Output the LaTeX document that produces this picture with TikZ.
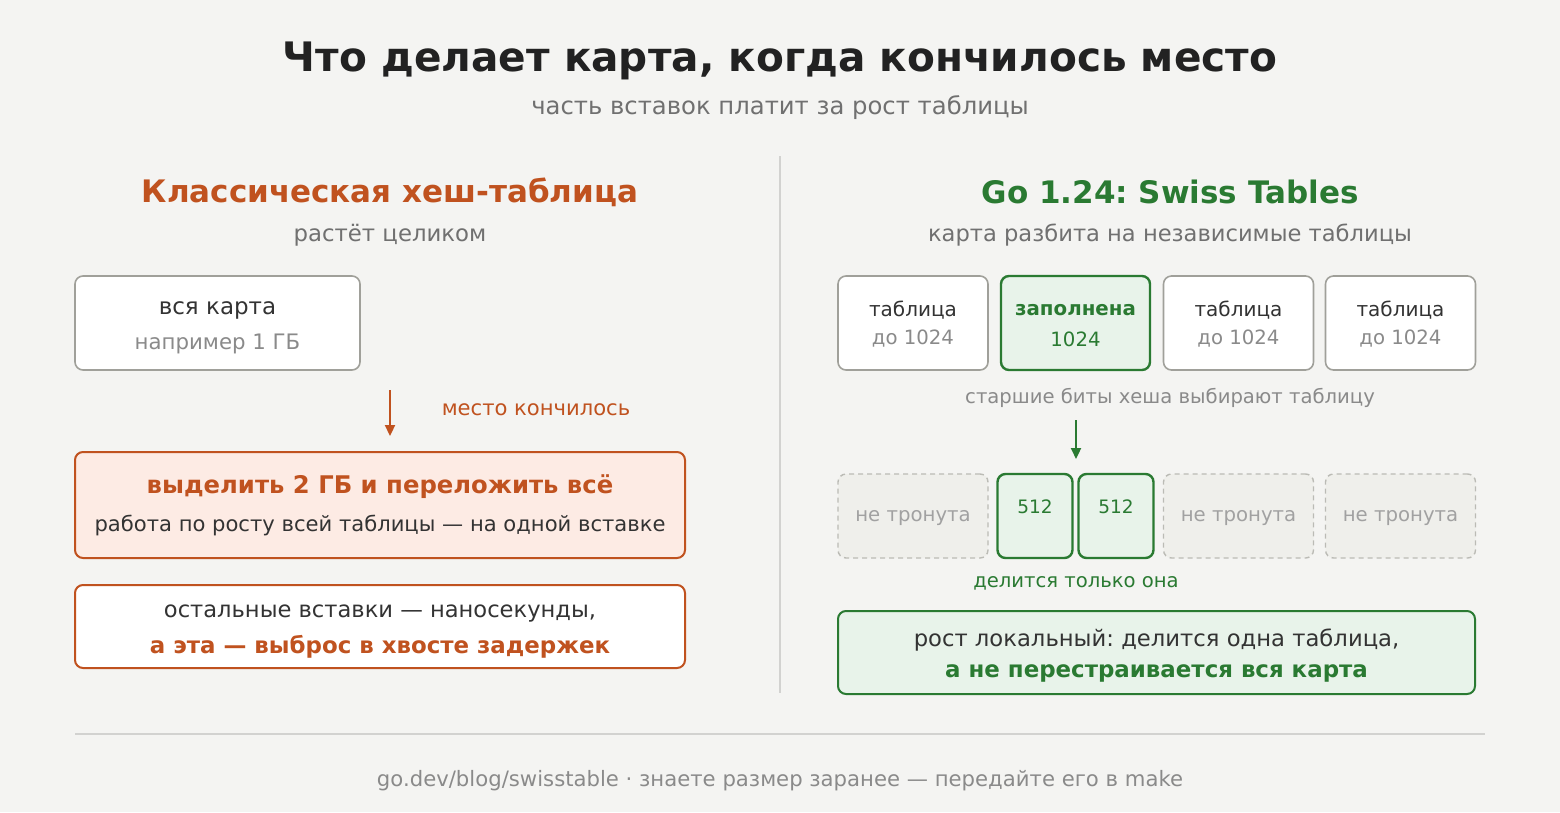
\documentclass[tikz,border=0pt]{standalone}
\usepackage{fontspec}
\setmainfont{DejaVu Sans}
\usetikzlibrary{arrows.meta}
\definecolor{bg}{HTML}{F4F4F2}
\definecolor{ora}{HTML}{C0521F}
\definecolor{orafill}{HTML}{FDEBE4}
\definecolor{grn}{HTML}{2A7A32}
\definecolor{grnfill}{HTML}{E8F3EA}
\definecolor{dark}{HTML}{222222}
\definecolor{txt}{HTML}{333333}
\definecolor{mid}{HTML}{707070}
\definecolor{lgt}{HTML}{8A8A8A}
\definecolor{bord}{HTML}{A0A09A}
\definecolor{dash}{HTML}{BBBBB5}
\definecolor{dfill}{HTML}{EFEFEB}
\definecolor{rule}{HTML}{D2D2D0}
\newcommand{\fs}[1]{\fontsize{#1}{#1}\selectfont}
\frenchspacing
\tikzset{
  x=1pt,y=-1pt,
  box/.style={draw=bord,fill=white,line width=1.6pt,rounded corners=8pt,inner sep=0pt},
  obox/.style={draw=ora,fill=orafill,line width=2pt,rounded corners=8pt,inner sep=0pt},
  owbox/.style={draw=ora,fill=white,line width=2pt,rounded corners=8pt,inner sep=0pt},
  gbox/.style={draw=grn,fill=grnfill,line width=2.4pt,rounded corners=8pt,inner sep=0pt},
  dbox/.style={draw=dash,fill=dfill,line width=1.4pt,dash pattern=on 5pt off 4pt,rounded corners=8pt,inner sep=0pt},
  lbl/.style={inner sep=0pt,anchor=center},
}
\begin{document}
\frenchspacing
\begin{tikzpicture}
\fill[bg] (0,0) rectangle (1560,812);
\useasboundingbox (0,0) rectangle (1560,812);
% title
\node[lbl,text=dark] (title) at (780,61) {\fs{40.6}\bfseries Что делает карта, когда кончилось место};
\node[lbl,text=mid] (sub) at (780,108) {\fs{24.3}часть вставок платит за рост таблицы};
% divider
\draw[rule,line width=1.5pt] (780,156) -- (780,693);
% left
\node[lbl,text=ora] (lh) at (390,192) {\fs{31}\bfseries Классическая хеш-таблица};
\node[lbl,text=mid] (ls) at (390,235) {\fs{22.8}растёт целиком};
\node[box,minimum width=285pt,minimum height=94pt] (all) at (217.5,323) {};
\node[lbl,text=txt] at (217.5,310) {\fs{23}вся карта};
\node[lbl,text=lgt] at (217.5,344) {\fs{21.3}например 1 ГБ};
\coordinate (a1) at (390,390);
\coordinate (a2) at (390,436);
\draw[ora,line width=2.2pt,-{Triangle[length=11pt,width=10pt]}] (a1) -- (a2);
\node[lbl,text=ora] (lab1) at (536,410) {\fs{21.1}место кончилось};
\node[obox,minimum width=610pt,minimum height=106pt] (grow) at (380,505) {};
\node[lbl,text=ora] at (380,487) {\fs{24.3}\bfseries выделить 2 ГБ и переложить всё};
\node[lbl,text=txt] at (380,525) {\fs{21.1}работа по росту всей таблицы — на одной вставке};
\node[owbox,minimum width=610pt,minimum height=83pt] (tail) at (380,626.5) {};
\node[lbl,text=txt] at (380,614) {\fs{22.6}остальные вставки — наносекунды,};
\node[lbl,text=ora] at (380,647) {\fs{22.9}\bfseries а эта — выброс в хвосте задержек};
% right
\node[lbl,text=grn] (rh) at (1170,192) {\fs{31}\bfseries Go 1.24: Swiss Tables};
\node[lbl,text=mid] (rs) at (1170,235) {\fs{22.6}карта разбита на независимые таблицы};
\foreach \n/\cx in {t1/913,t3/1238.5,t4/1400.5}{
  \node[box,minimum width=150pt,minimum height=94pt] (\n) at (\cx,323) {};
  \node[lbl,text=txt] at (\cx,310) {\fs{20}таблица};
  \node[lbl,text=lgt] at (\cx,339) {\fs{19.7}до 1024};
}
\node[gbox,minimum width=149pt,minimum height=94pt] (t2) at (1075.5,323) {};
\node[lbl,text=grn] at (1075.5,310) {\fs{19.8}\bfseries заполнена};
\node[lbl,text=grn] at (1075.5,339) {\fs{19.7}1024};
\node[lbl,text=lgt] (hint) at (1170,398) {\fs{19.6}старшие биты хеша выбирают таблицу};
\coordinate (g1) at (1076,420);
\coordinate (g2) at (1076,459);
\draw[grn,line width=2.2pt,-{Triangle[length=11pt,width=10pt]}] (g1) -- (g2);
\foreach \n/\cx in {u1/913,u3/1238.5,u4/1400.5}{
  \node[dbox,minimum width=150pt,minimum height=84pt] (\n) at (\cx,516) {};
  \node[lbl,text=lgt!80] at (\cx,518) {\fs{19.7}не тронута};
}
\node[gbox,minimum width=75pt,minimum height=84pt] (h1) at (1035,516) {};
\node[gbox,minimum width=75pt,minimum height=84pt] (h2) at (1116,516) {};
\node[lbl,text=grn] at (1035,507) {\fs{18.5}512};
\node[lbl,text=grn] at (1116,507) {\fs{18.5}512};
\node[lbl,text=grn] (only) at (1076,583) {\fs{19.6}делится только она};
\node[gbox,line width=2pt,minimum width=637pt,minimum height=83pt] (loc) at (1156.5,652.5) {};
\node[lbl,text=txt] at (1156.5,640) {\fs{22.7}рост локальный: делится одна таблица,};
\node[lbl,text=grn] at (1156.5,673) {\fs{22.9}\bfseries а не перестраивается вся карта};
% footer
\draw[rule,line width=1.5pt] (75,734) -- (1485,734);
\node[lbl,text=lgt] (foot) at (780,781) {\fs{21.2}go.dev/blog/swisstable · знаете размер заранее — передайте его в make};
\end{tikzpicture}
\end{document}
